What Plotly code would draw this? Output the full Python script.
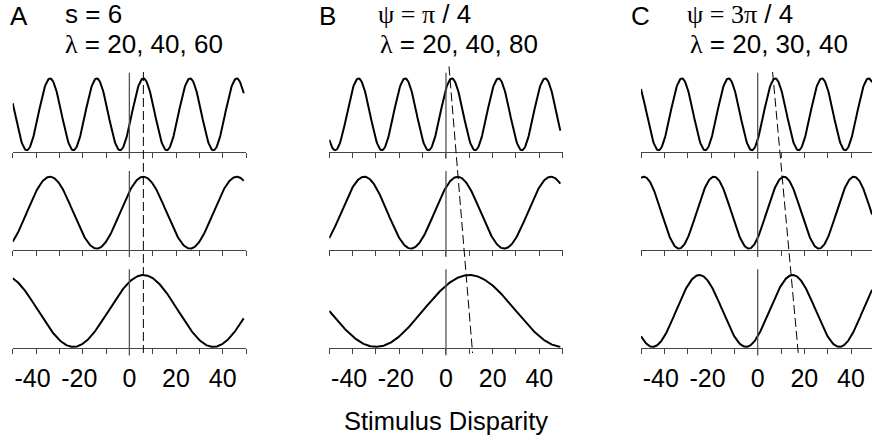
import numpy as np
import plotly.graph_objects as go

W, H = 872, 440

# ---------------- data ----------------
panel_letters = ["A", "B", "C"]
param_labels = ['s = 6',
                '<span style="font-family:Liberation Serif">ψ = π</span> / 4',
                '<span style="font-family:Liberation Serif">ψ = 3π</span> / 4']
lambda_labels = ['<span style="font-family:Liberation Serif">λ</span> = 20, 40, 60',
                 '<span style="font-family:Liberation Serif">λ</span> = 20, 40, 80',
                 '<span style="font-family:Liberation Serif">λ</span> = 20, 30, 40']
wavelengths = [[20, 40, 60], [20, 40, 80], [20, 30, 40]]   # per column, rows top->bottom
position_shift = [6, 0, 0]                                  # s
phase_shift = [0.0, np.pi / 4, 3 * np.pi / 4]               # psi
dash_top_x = [6.0, 1.3, 6.4]       # dashed line x at top of column
dash_bottom_x = [6.0, 11.4, 17.4]  # dashed line x at bottom of column
x_tickvals = [-50, -40, -30, -20, -10, 0, 10, 20, 30, 40, 50]
x_ticktext = ["", "-40\u00a0", "", "-20\u00a0", "", "0", "", "20", "", "40", ""]
x_title = "Stimulus Disparity"
disparity = np.arange(-50, 49.001, 0.25)

# ---------------- layout geometry (pixels) ----------------
col_left = [12.7, 329.3, 641.0]
px_per_unit = 233.33 / 100.0
row_top = [72.7, 171.0, 269.3]
row_bottom = [151.7, 250.0, 348.3]
y_range = [-0.02, 1.08]

AX = "#444444"
fig = go.Figure()
layout = dict(width=W, height=H, margin=dict(l=0, r=0, t=0, b=0),
              paper_bgcolor="white", plot_bgcolor="white", showlegend=False,
              font=dict(family="Liberation Sans, Arial, sans-serif", size=24, color="black"))
shapes = []
annotations = []

for c in range(3):
    left = col_left[c]
    right = min(left + 100 * px_per_unit, W)
    xmax = -50 + (right - left) / px_per_unit
    for r in range(3):
        idx = c * 3 + r + 1
        xa = "x" if idx == 1 else f"x{idx}"
        ya = "y" if idx == 1 else f"y{idx}"
        lam = wavelengths[c][r]
        yv = (1 + np.cos(2 * np.pi * (disparity - position_shift[c]) / lam - phase_shift[c])) / 2
        fig.add_trace(go.Scatter(x=disparity, y=yv, mode="lines", xaxis=xa, yaxis=ya,
                                 line=dict(color="black", width=2), hoverinfo="skip"))
        layout[f"xaxis{'' if idx == 1 else idx}"] = dict(
            domain=[left / W, right / W], range=[-50, xmax], anchor=ya,
            showline=True, linecolor=AX, linewidth=1, ticks="outside", ticklen=5,
            tickwidth=1, tickcolor=AX, tickvals=x_tickvals, ticktext=x_ticktext,
            showticklabels=(r == 2), showgrid=False, zeroline=False,
            tickfont=dict(size=25, color="black"), ticklabelstandoff=3)
        layout[f"yaxis{'' if idx == 1 else idx}"] = dict(
            domain=[1 - row_bottom[r] / H, 1 - row_top[r] / H], range=y_range,
            visible=False, anchor=xa)
        # zero disparity line
        shapes.append(dict(type="line", xref=xa, yref=f"{ya} domain", x0=0, x1=0,
                           y0=-0.09, y1=1.0, line=dict(color="#555555", width=1.3)))
    # dashed line through preferred disparities
    xb = f"x{c * 3 + 3}"
    shapes.append(dict(type="line", xref=xb, yref="paper",
                       x0=dash_top_x[c], y0=1 - (72.0 if c != 1 else 66.5) / H,
                       x1=dash_bottom_x[c], y1=1 - 353.0 / H,
                       line=dict(color="black", width=1, dash="9px,4px")))

letter_x = [10, 319.3, 630.7]
param_x = [65, 378.3, 687.3]
lam_x = [65, 380, 690]
for c in range(3):
    annotations.append(dict(text=panel_letters[c], x=(letter_x[c] - 2) / W, y=1 - 16.2 / H,
                            xref="paper", yref="paper", xanchor="left", yanchor="middle",
                            showarrow=False, font=dict(size=26)))
    annotations.append(dict(text=param_labels[c], x=(param_x[c] - 2) / W, y=1 - 14 / H,
                            xref="paper", yref="paper", xanchor="left", yanchor="middle",
                            showarrow=False, font=dict(size=26)))
    annotations.append(dict(text=lambda_labels[c], x=(lam_x[c] - 2) / W, y=1 - 44.5 / H,
                            xref="paper", yref="paper", xanchor="left", yanchor="middle",
                            showarrow=False, font=dict(size=26)))
annotations.append(dict(text=x_title, x=445.8 / W, y=1 - 420.5 / H, xref="paper", yref="paper",
                        xanchor="center", yanchor="middle", showarrow=False, font=dict(size=25.5)))

layout["shapes"] = shapes
layout["annotations"] = annotations
fig.update_layout(**layout)
fig.write_html("out.html", config={"displayModeBar": False},
               post_script="document.body.style.margin='0px';document.body.style.overflow='hidden';")
